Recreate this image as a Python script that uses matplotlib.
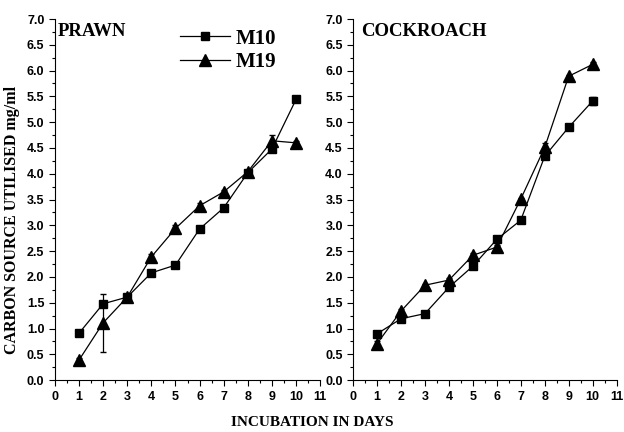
import numpy as np
import matplotlib
matplotlib.use("Agg")
import matplotlib.pyplot as plt
from matplotlib.ticker import MultipleLocator, FormatStrFormatter

days = [1, 2, 3, 4, 5, 6, 7, 8, 9, 10]

# prawn
prawn_m10 = [0.91, 1.48, 1.61, 2.08, 2.23, 2.93, 3.34, 4.02, 4.48, 5.44]
prawn_m10_err = [0.03, 0.04, 0.03, 0.03, 0.03, 0.05, 0.03, 0.04, 0.04, 0.05]
prawn_m19 = [0.39, 1.11, 1.61, 2.39, 2.94, 3.38, 3.65, 4.04, 4.64, 4.60]
prawn_m19_err = [0.04, 0.56, 0.04, 0.05, 0.06, 0.05, 0.04, 0.04, 0.11, 0.04]

# cockroach
cock_m10 = [0.90, 1.19, 1.29, 1.80, 2.21, 2.73, 3.10, 4.34, 4.90, 5.41]
cock_m10_err = [0.03, 0.03, 0.03, 0.04, 0.03, 0.03, 0.03, 0.06, 0.03, 0.07]
cock_m19 = [0.71, 1.34, 1.84, 1.94, 2.42, 2.58, 3.51, 4.51, 5.89, 6.12]
cock_m19_err = [0.04, 0.04, 0.03, 0.04, 0.04, 0.04, 0.03, 0.08, 0.03, 0.04]

titles = ["PRAWN", "COCKROACH"]

serif = "Liberation Serif"
sans = "Liberation Sans"

fig = plt.figure(figsize=(6.24, 4.32), dpi=100)
ax1 = fig.add_axes([0.088, 0.120, 0.425, 0.836])
ax2 = fig.add_axes([0.566, 0.120, 0.422, 0.836])

panels = [(ax1, prawn_m10, prawn_m10_err, prawn_m19, prawn_m19_err),
          (ax2, cock_m10, cock_m10_err, cock_m19, cock_m19_err)]

handles = []
for i, (ax, a, ae, b, be) in enumerate(panels):
    c1 = ax.errorbar(days, a, yerr=ae, color="black", marker="s", markersize=5.5,
                     lw=0.9, elinewidth=0.9, capsize=2.5)
    c2 = ax.errorbar(days, b, yerr=be, color="black", marker="^", markersize=8,
                     lw=0.9, elinewidth=0.9, capsize=2.5)
    if i == 0:
        handles = [c1.lines[0], c2.lines[0]]
    ax.set_xlim(0, 11)
    ax.set_ylim(0, 7)
    ax.xaxis.set_major_locator(MultipleLocator(1))
    ax.xaxis.set_minor_locator(MultipleLocator(0.5))
    ax.yaxis.set_major_locator(MultipleLocator(0.5))
    ax.yaxis.set_minor_locator(MultipleLocator(0.25))
    ax.yaxis.set_major_formatter(FormatStrFormatter("%.1f"))
    ax.spines["top"].set_visible(False)
    ax.spines["right"].set_visible(False)
    ax.tick_params(direction="out", length=4, width=0.8, labelsize=9)
    ax.tick_params(which="minor", direction="out", length=2.5, width=0.8)
    for lab in ax.get_xticklabels() + ax.get_yticklabels():
        lab.set_fontfamily(sans)
        lab.set_fontweight("bold")
    ax.text(0.01 if i == 0 else 0.03, 0.99, titles[i], transform=ax.transAxes,
            ha="left", va="top", fontsize=13.5, fontweight="bold", family=serif)

ax1.legend(handles, ["M10", "M19"], loc="upper left",
           bbox_to_anchor=(0.40, 1.025), frameon=False,
           prop={"family": serif, "weight": "bold", "size": 15},
           handlelength=2.4, labelspacing=0.15, handletextpad=0.3)

fig.text(0.019, 0.49, "CARBON SOURCE UTILISED mg/ml", rotation=90,
         ha="center", va="center", fontsize=11.5, fontweight="bold", family=serif)
fig.text(0.5, 0.022, "INCUBATION IN DAYS", ha="center", va="center",
         fontsize=11, fontweight="bold", family=serif)

fig.savefig("out.png", dpi=100)
